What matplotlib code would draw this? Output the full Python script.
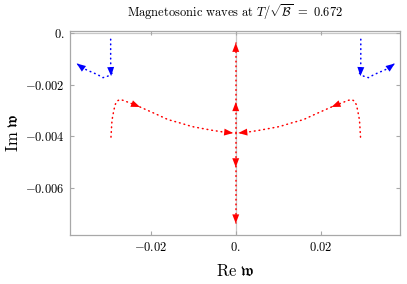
import numpy as np
import matplotlib
matplotlib.use("Agg")
import matplotlib.pyplot as plt

plt.rcParams['mathtext.fontset'] = 'cm'

# red modes: two arcs that meet on the imaginary axis, then split up/down
red_left_re = [-0.02938, -0.02926, -0.02914, -0.02879, -0.02843, -0.02796, -0.02726,
               -0.02631, -0.02560, -0.02419, -0.02254, -0.02089, -0.01830, -0.01594,
               -0.01312, -0.01029, -0.00770, -0.00535, -0.00299, -0.00060]
red_left_im = [-0.00403, -0.00368, -0.00337, -0.00306, -0.00278, -0.00263, -0.00257,
               -0.00261, -0.00266, -0.00275, -0.00286, -0.00298, -0.00317, -0.00335,
               -0.00348, -0.00362, -0.00370, -0.00377, -0.00383, -0.00387]
red_right_re = [0.02938, 0.02926, 0.02914, 0.02879, 0.02843, 0.02796, 0.02726,
                0.02631, 0.02560, 0.02419, 0.02254, 0.02089, 0.01830, 0.01594,
                0.01312, 0.01029, 0.00770, 0.00535, 0.00299, 0.00060]
red_right_im = [-0.00403, -0.00368, -0.00337, -0.00306, -0.00278, -0.00263, -0.00257,
                -0.00261, -0.00266, -0.00275, -0.00286, -0.00298, -0.00317, -0.00335,
                -0.00348, -0.00362, -0.00370, -0.00377, -0.00383, -0.00387]
red_up_re = [0.0, 0.0, 0.0, 0.0, 0.0]
red_up_im = [-0.00386, -0.00330, -0.00267, -0.00150, -0.00037]
red_down_re = [0.0, 0.0, 0.0, 0.0, 0.0]
red_down_im = [-0.00386, -0.00450, -0.00520, -0.00650, -0.00738]

# blue modes: drop straight down, then turn outwards
blue_lv_re = [-0.02945, -0.02945, -0.02945, -0.02943, -0.02935]
blue_lv_im = [-0.00023, -0.00060, -0.00100, -0.00140, -0.00166]
blue_la_re = [-0.02914, -0.03008, -0.03126, -0.03237, -0.03355, -0.03472, -0.03590, -0.03746]
blue_la_im = [-0.00155, -0.00166, -0.00172, -0.00162, -0.00153, -0.00145, -0.00136, -0.00117]
blue_rv_re = [0.02945, 0.02945, 0.02945, 0.02943, 0.02935]
blue_rv_im = [-0.00023, -0.00060, -0.00100, -0.00140, -0.00166]
blue_ra_re = [0.02914, 0.03008, 0.03126, 0.03237, 0.03355, 0.03472, 0.03590, 0.03746]
blue_ra_im = [-0.00155, -0.00166, -0.00172, -0.00162, -0.00153, -0.00145, -0.00136, -0.00117]

xticks = [-0.02, 0.0, 0.02]
xticklabels = [r"$-0.02$", r"$0.$", r"$0.02$"]
yticks = [0.0, -0.002, -0.004, -0.006]
yticklabels = [r"$0.$", r"$-0.002$", r"$-0.004$", r"$-0.006$"]

fig = plt.figure(figsize=(4.07, 2.84), dpi=100)
ax = fig.add_axes([0.172, 0.1725, 0.811, 0.7183])
ax.set_xlim(-0.03903, 0.0387)
ax.set_ylim(-0.00783, 0.00009)

grey = "#a8a8a8"
ax.axvline(0, color="#c8c8c8", lw=0.9, zorder=0)
ax.axhline(0, color="#c8c8c8", lw=0.9, zorder=0)
for s in ax.spines.values():
    s.set_color(grey)
    s.set_linewidth(0.9)

ax.set_xticks(xticks)
ax.set_xticklabels(xticklabels)
ax.set_yticks(yticks)
ax.set_yticklabels(yticklabels)
ax.tick_params(direction="in", length=3, width=0.8, color=grey, labelsize=9,
               top=True, right=True, pad=4)

ax.set_title(r"$\mathrm{Magnetosonic\ waves\ at\ }T/\sqrt{\mathcal{B}}\ =\ 0.672$",
             fontsize=9, pad=10)
ax.set_xlabel(r"$\mathrm{Re}\ \mathfrak{w}$", fontsize=12, labelpad=6)
ax.set_ylabel(r"$\mathrm{Im}\ \mathfrak{w}$", fontsize=12, labelpad=2)

dots = dict(lw=1.1, ls=(0, (0.5, 2.6)), dash_capstyle="round")


def arrow(re, im, i, color):
    p1 = ax.transData.transform((re[i - 1], im[i - 1]))
    p2 = ax.transData.transform((re[i], im[i]))
    d = (p2 - p1) / np.hypot(*(p2 - p1))
    ax.annotate("", xy=(re[i], im[i]), xytext=(-d[0] * 9, -d[1] * 9),
                textcoords="offset pixels",
                arrowprops=dict(arrowstyle="-|>,head_length=0.65,head_width=0.25",
                                color=color, lw=0, shrinkA=0, shrinkB=0))


for re, im, idx in [(red_left_re, red_left_im, [10, 19]),
                    (red_right_re, red_right_im, [10, 19]),
                    (red_up_re, red_up_im, [2, 4]),
                    (red_down_re, red_down_im, [2, 4])]:
    ax.plot(re, im, color="red", **dots)
    for i in idx:
        arrow(re, im, i, "red")

for re, im, idx in [(blue_lv_re, blue_lv_im, [4]),
                    (blue_la_re, blue_la_im, [7]),
                    (blue_rv_re, blue_rv_im, [4]),
                    (blue_ra_re, blue_ra_im, [7])]:
    ax.plot(re, im, color="blue", **dots)
    for i in idx:
        arrow(re, im, i, "blue")

fig.savefig("out.png", dpi=100)
